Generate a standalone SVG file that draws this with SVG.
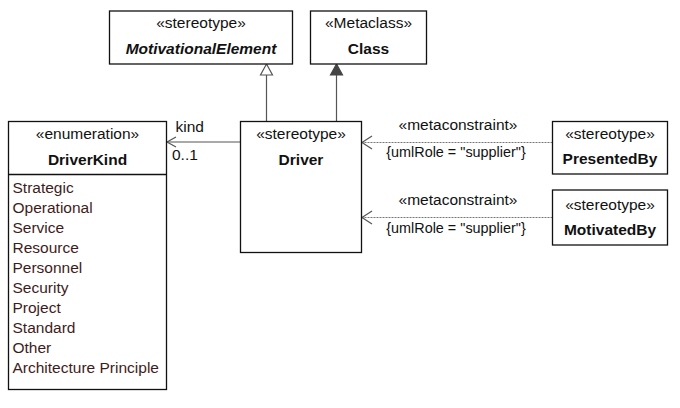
<svg xmlns="http://www.w3.org/2000/svg" width="680" height="408" viewBox="0 0 680 408">
<style>
text{font-family:"Liberation Sans",Arial,sans-serif;font-size:15.5px;fill:#111}
.c{text-anchor:middle}
.b{font-weight:bold}
.bi{font-weight:bold;font-style:italic}
.lit{fill:#3f1c1c}
.sm{font-size:14.4px}
.box{fill:#fff;stroke:#111;stroke-width:1.3}
.ln{fill:none;stroke:#555;stroke-width:1.2}
.dash{fill:none;stroke:#777;stroke-width:1;stroke-dasharray:2,1}
.arr{fill:none;stroke:#555;stroke-width:1.2}
</style>
<rect width="680" height="408" fill="#fff"/>
<g id="connectors">
  <line class="ln" x1="266.5" y1="121.5" x2="266.5" y2="75"/>
  <polygon points="266.5,64 260.5,75 272.5,75" fill="#fff" stroke="#555" stroke-width="1.2"/>
  <line class="ln" x1="336.5" y1="121.5" x2="336.5" y2="75"/>
  <polygon points="336.5,64 330.5,75 342.5,75" fill="#444" stroke="#444" stroke-width="1.2"/>
  <line class="ln" x1="240.5" y1="142" x2="167" y2="142"/>
  <polyline class="arr" points="176,137 167,142 176,147"/>
  <text x="175.5" y="131.5">kind</text>
  <text x="172" y="160">0..1</text>
  <line class="dash" x1="552.5" y1="142.5" x2="362" y2="142.5"/>
  <polyline class="arr" points="372,136 362,142.5 372,149"/>
  <text class="c" x="458" y="130">«metaconstraint»</text>
  <text class="c sm" x="456" y="157">{umlRole = "supplier"}</text>
  <line class="dash" x1="552.5" y1="217.5" x2="362" y2="217.5"/>
  <polyline class="arr" points="372,211 362,217.5 372,224"/>
  <text class="c" x="458" y="205">«metaconstraint»</text>
  <text class="c sm" x="456" y="233">{umlRole = "supplier"}</text>
</g>
<g id="MotivationalElement">
  <rect class="box" x="109.5" y="11" width="183" height="53"/>
  <text class="c" x="201" y="27.5">«stereotype»</text>
  <text class="c bi" x="201" y="53.5">MotivationalElement</text>
</g>
<g id="Class">
  <rect class="box" x="310.5" y="11" width="116" height="53"/>
  <text class="c" x="368.5" y="27.5">«Metaclass»</text>
  <text class="c b" x="368.5" y="53.5">Class</text>
</g>
<g id="DriverKind">
  <rect class="box" x="8.5" y="121.5" width="158" height="268"/>
  <line x1="8.5" y1="174.5" x2="166.5" y2="174.5" stroke="#111" stroke-width="1.3"/>
  <text class="c" x="87.5" y="138.5">«enumeration»</text>
  <text class="c b" x="87.5" y="164.5">DriverKind</text>
  <text class="lit" x="12.5" y="192.5">Strategic</text>
  <text class="lit" x="12.5" y="212.5">Operational</text>
  <text class="lit" x="12.5" y="232.5">Service</text>
  <text class="lit" x="12.5" y="252.5">Resource</text>
  <text class="lit" x="12.5" y="272.5">Personnel</text>
  <text class="lit" x="12.5" y="292.5">Security</text>
  <text class="lit" x="12.5" y="312.5">Project</text>
  <text class="lit" x="12.5" y="332.5">Standard</text>
  <text class="lit" x="12.5" y="352.5">Other</text>
  <text class="lit" x="12.5" y="372.5">Architecture Principle</text>
</g>
<g id="Driver">
  <rect class="box" x="240.5" y="121.5" width="121" height="131"/>
  <text class="c" x="301" y="139">«stereotype»</text>
  <text class="c b" x="301" y="165">Driver</text>
</g>
<g id="PresentedBy">
  <rect class="box" x="552.5" y="121.5" width="115" height="52.5"/>
  <text class="c" x="610" y="138.5">«stereotype»</text>
  <text class="c b" x="610" y="164">PresentedBy</text>
</g>
<g id="MotivatedBy">
  <rect class="box" x="552.5" y="190" width="115" height="55"/>
  <text class="c" x="610" y="210">«stereotype»</text>
  <text class="c b" x="610" y="235">MotivatedBy</text>
</g>
</svg>
